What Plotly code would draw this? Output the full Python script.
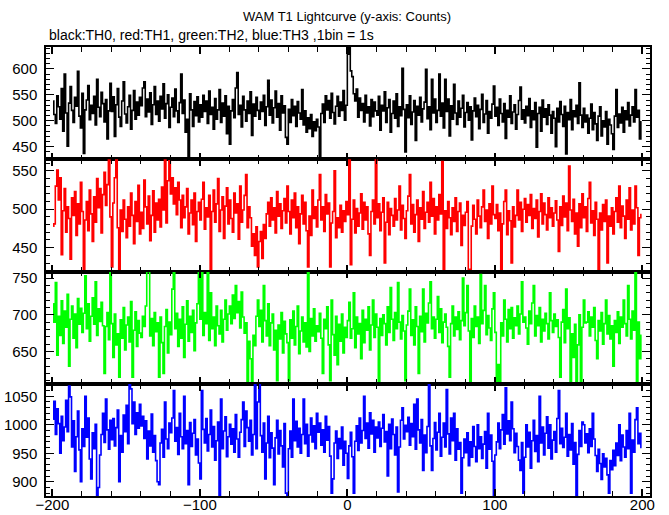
import plotly.graph_objects as go
from plotly.subplots import make_subplots

# ---- data: counts per 1-s bin (t = -200 .. 199 s) ----
th0_counts = [
    538, 512, 495, 548, 527, 503, 562, 480, 590, 515, 451, 534, 566, 520, 497, 545, 528, 595, 509, 486,
    553, 437, 521, 540, 568, 502, 530, 514, 547, 492, 580, 526, 508, 555, 533, 498, 541, 465, 519, 572,
    518, 546, 470, 531, 562, 507, 489, 538, 575, 513, 496, 527, 549, 484, 520, 558, 503, 536, 511, 545,
    529, 563, 575, 508, 542, 517, 554, 493, 531, 566, 512, 538, 499, 547, 523, 571, 505, 533, 550, 487,
    526, 544, 508, 561, 519, 497, 535, 590, 514, 540, 478, 503, 426, 552, 521, 489, 537, 510, 546, 498,
    531, 507, 549, 518, 538, 495, 557, 512, 526, 484, 543, 503, 521, 560, 497, 534, 509, 548, 475, 528,
    455, 519, 541, 506, 563, 593, 512, 530, 488, 547, 521, 499, 538, 514, 556, 472, 532, 509, 545, 520,
    503, 536, 518, 549, 491, 527, 578, 511, 540, 496, 525, 557, 507, 533, 482, 548, 515, 529, 468, 455,
    522, 497, 541, 510, 528, 489, 537, 515, 503, 560, 492, 519, 478, 506, 485, 512, 470, 498, 481, 503,
    488, 426, 514, 532, 497, 548, 521, 539, 505, 553, 516, 494, 528, 547, 509, 536, 520, 558, 501, 530,
    628, 642, 596, 585, 552, 538, 561, 507, 544, 520, 533, 498, 549, 515, 527, 490, 541, 508, 536, 519,
    511, 547, 482, 530, 519, 556, 497, 525, 541, 478, 514, 538, 505, 552, 489, 527, 510, 601, 522, 440,
    531, 506, 548, 493, 517, 539, 462, 528, 511, 545, 498, 523, 536, 599, 504, 527, 483, 580, 515, 542,
    497, 520, 590, 509, 534, 486, 580, 518, 542, 471, 529, 503, 570, 515, 493, 538, 507, 524, 549, 488,
    516, 535, 501, 527, 463, 519, 544, 508, 530, 485, 522, 551, 497, 513, 539, 476, 518, 505, 532, 567,
    509, 526, 491, 542, 514, 498, 533, 466, 520, 507, 548, 495, 517, 531, 484, 512, 539, 565, 503, 521,
    496, 528, 510, 543, 487, 519, 502, 535, 449, 514, 526, 480, 540, 507, 523, 493, 531, 511, 476, 518,
    505, 450, 524, 498, 537, 512, 489, 528, 436, 516, 502, 541, 483, 519, 508, 530, 495, 573, 511, 487,
    524, 498, 511, 476, 505, 532, 483, 516, 494, 462, 509, 527, 471, 500, 488, 518, 455, 503, 492, 475,
    445, 509, 560, 487, 513, 496, 526, 478, 519, 502, 535, 490, 511, 527, 498, 560, 507, 520, 465, 498,
]
th1_counts = [
    478, 481, 530, 551, 512, 541, 441, 498, 527, 470, 503, 488, 435, 515, 492, 523, 466, 507, 481, 535,
    497, 419, 486, 510, 472, 525, 494, 458, 516, 483, 540, 502, 527, 469, 519, 548, 505, 532, 565, 490,
    425, 508, 541, 565, 476, 420, 499, 471, 512, 487, 463, 503, 478, 521, 492, 455, 510, 484, 531, 468,
    496, 475, 538, 503, 481, 517, 459, 492, 524, 470, 508, 486, 513, 477, 529, 499, 565, 482, 537, 563,
    520, 541, 507, 528, 493, 535, 512, 476, 518, 489, 503, 527, 468, 495, 512, 480, 521, 458, 497, 509,
    486, 513, 535, 474, 502, 490, 518, 420, 497, 525, 483, 507, 540, 471, 499, 516, 462, 504, 528, 481,
    512, 488, 470, 521, 495, 507, 461, 530, 483, 499, 518, 545, 476, 503, 489, 452, 468, 440, 477, 425,
    458, 471, 436, 480, 462, 494, 509, 478, 515, 486, 502, 469, 523, 491, 507, 475, 498, 514, 482, 530,
    497, 468, 512, 489, 521, 476, 503, 455, 494, 518, 481, 509, 472, 425, 491, 466, 525, 488, 503, 477,
    512, 545, 486, 503, 471, 519, 494, 508, 425, 482, 497, 550, 463, 489, 476, 505, 470, 498, 484, 510,
    493, 565, 428, 487, 512, 469, 501, 478, 495, 520, 474, 509, 486, 503, 468, 440, 497, 512, 481, 565,
    489, 507, 472, 496, 515, 430, 483, 509, 467, 501, 492, 478, 514, 486, 499, 530, 473, 505, 488, 462,
    498, 517, 545, 481, 506, 470, 493, 512, 458, 502, 487, 523, 475, 496, 509, 483, 535, 491, 514, 468,
    503, 486, 519, 494, 562, 420, 498, 475, 510, 489, 467, 502, 484, 515, 471, 497, 508, 453, 492, 479,
    496, 510, 419, 422, 478, 505, 487, 468, 512, 491, 476, 503, 525, 484, 499, 462, 507, 481, 530, 493,
    488, 506, 472, 495, 419, 481, 510, 525, 467, 498, 485, 430, 503, 477, 492, 525, 486, 509, 471, 500,
    514, 483, 506, 492, 519, 475, 501, 488, 512, 464, 497, 520, 481, 508, 493, 473, 515, 489, 502, 478,
    495, 511, 486, 445, 503, 479, 517, 490, 508, 472, 556, 499, 484, 513, 468, 495, 452, 507, 476, 520,
    489, 503, 471, 514, 535, 482, 498, 466, 509, 487, 420, 495, 473, 506, 484, 512, 430, 491, 478, 502,
    468, 497, 515, 483, 530, 476, 504, 491, 462, 512, 487, 528, 473, 499, 481, 530, 502, 440, 489, 493,
]
th2_counts = [
    715, 690, 744, 645, 698, 672, 719, 661, 705, 683, 728, 630, 694, 712, 668, 701, 655, 722, 687, 709,
    676, 702, 753, 681, 715, 664, 698, 723, 687, 745, 672, 708, 691, 717, 685, 620, 684, 703, 666, 759,
    688, 642, 701, 659, 674, 615, 693, 668, 710, 652, 686, 697, 663, 718, 615, 679, 704, 657, 692, 675,
    669, 698, 684, 712, 759, 759, 671, 695, 658, 703, 677, 689, 615, 697, 662, 620, 684, 707, 648, 690,
    673, 735, 759, 681, 702, 657, 694, 668, 711, 642, 687, 719, 664, 698, 676, 706, 651, 689, 715, 759,
    694, 759, 672, 703, 688, 759, 665, 730, 681, 697, 658, 712, 685, 674, 706, 663, 694, 720, 679, 701,
    712, 688, 727, 695, 740, 703, 718, 682, 731, 697, 675, 689, 606, 664, 640, 606, 672, 658, 698, 720,
    684, 706, 663, 740, 692, 671, 715, 658, 689, 701, 652, 679, 610, 686, 667, 703, 648, 691, 674, 662,
    610, 693, 668, 705, 659, 684, 712, 647, 678, 697, 663, 689, 656, 759, 650, 695, 671, 708, 664, 685,
    677, 702, 668, 620, 694, 681, 711, 659, 610, 720, 673, 645, 698, 632, 687, 664, 701, 648, 683, 669,
    692, 717, 668, 681, 730, 655, 697, 674, 688, 640, 706, 662, 694, 679, 711, 652, 686, 720, 669, 701,
    683, 606, 695, 672, 700, 688, 659, 711, 676, 737, 694, 665, 703, 681, 744, 690, 667, 699, 678, 610,
    686, 705, 735, 672, 693, 659, 711, 684, 620, 698, 677, 735, 663, 702, 689, 716, 745, 681, 697, 668,
    694, 725, 676, 708, 662, 690, 701, 683, 657, 615, 688, 712, 671, 697, 680, 704, 666, 692, 750, 685,
    703, 740, 678, 606, 695, 669, 712, 684, 697, 661, 755, 688, 706, 740, 673, 699, 682, 665, 708, 730,
    676, 606, 632, 606, 689, 671, 720, 694, 663, 707, 681, 710, 668, 696, 685, 712, 674, 701, 745, 690,
    697, 682, 660, 705, 688, 716, 740, 671, 699, 685, 710, 663, 694, 678, 702, 688, 667, 730, 692, 676,
    701, 684, 693, 669, 615, 690, 707, 662, 735, 681, 696, 606, 674, 642, 687, 606, 659, 700, 606, 683,
    720, 689, 690, 704, 671, 697, 683, 710, 665, 640, 692, 678, 703, 660, 688, 720, 674, 699, 667, 685,
    630, 692, 676, 704, 661, 697, 683, 720, 688, 671, 740, 694, 667, 705, 679, 759, 606, 690, 640, 672,
]
th3_counts = [
    1010, 1041, 983, 1028, 1002, 950, 1015, 972, 996, 1043, 988, 1068, 1049, 961, 1007, 918, 979, 1024, 956, 900,
    993, 962, 1050, 978, 1012, 940, 905, 986, 958, 1001, 875, 890, 947, 983, 1020, 969, 1045, 991, 957, 1008,
    974, 1011, 963, 995, 1026, 900, 981, 952, 1017, 988, 1034, 967, 1072, 1063, 1002, 1040, 983, 1021, 994, 1036,
    998, 1015, 976, 1007, 940, 989, 963, 1019, 952, 981, 937, 900, 895, 968, 992, 943, 1040, 975, 958, 1003,
    986, 1012, 1060, 971, 995, 948, 1020, 979, 958, 1050, 967, 990, 895, 1004, 962, 985, 1009, 947, 975, 933,
    905, 1060, 992, 968, 1011, 954, 983, 1026, 961, 997, 938, 972, 1005, 875, 1045, 958, 989, 1014, 944, 979,
    1001, 966, 993, 952, 1018, 975, 943, 987, 1009, 1040, 962, 1024, 995, 971, 1008, 947, 983, 1070, 958, 1040,
    1072, 981, 952, 1003, 905, 968, 1015, 942, 986, 959, 895, 977, 1008, 949, 990, 963, 926, 1002, 880, 875,
    958, 989, 943, 1045, 972, 1006, 961, 994, 950, 983, 1045, 967, 1001, 945, 982, 1012, 970, 998, 958, 1020,
    987, 1003, 964, 991, 952, 1015, 973, 997, 945, 880, 905, 968, 989, 941, 976, 958, 996, 929, 971, 950,
    906, 963, 987, 944, 880, 971, 998, 955, 1012, 968, 990, 1050, 976, 1003, 959, 1021, 984, 1008, 952, 996,
    977, 1005, 962, 994, 1018, 970, 988, 910, 1001, 958, 1010, 983, 947, 996, 882, 961, 1008, 1030, 975, 999,
    988, 1013, 964, 1002, 979, 1036, 957, 1045, 991, 968, 1009, 920, 982, 951, 997, 1072, 963, 920, 976, 1004,
    956, 987, 1020, 945, 978, 1003, 961, 1062, 984, 949, 1012, 972, 1020, 938, 993, 957, 969, 880, 942, 975,
    951, 986, 928, 970, 943, 997, 962, 935, 1000, 958, 979, 941, 966, 988, 924, 1020, 957, 982, 936, 875,
    947, 970, 1003, 958, 991, 1018, 966, 1065, 984, 1007, 972, 1040, 993, 951, 985, 962, 938, 920, 969, 880,
    943, 1000, 961, 987, 924, 972, 1008, 953, 981, 935, 1050, 968, 996, 947, 985, 1014, 959, 1000, 940, 973,
    988, 952, 1011, 1060, 967, 994, 960, 978, 1020, 945, 983, 956, 1002, 931, 969, 875, 948, 990, 962, 1005,
    1000, 968, 984, 951, 993, 962, 1020, 975, 946, 918, 957, 932, 904, 949, 926, 941, 912, 880, 937, 921,
    955, 928, 968, 946, 1000, 937, 982, 961, 943, 990, 958, 1020, 880, 973, 952, 1009, 1030, 967, 985, 960,
]

t_start = -199.5   # centre of first 1-s bin
bin_s = 1.0
series_names = ["TH0", "TH1", "TH2", "TH3"]
series_colors = ["#000000", "#ff0000", "#00ff00", "#0000ff"]
y_ranges = [[426, 642], [419, 565], [606, 759], [875, 1072]]
x_range = [-204.3, 205.2]

all_counts = [th0_counts, th1_counts, th2_counts, th3_counts]

fig = make_subplots(rows=4, cols=1, shared_xaxes=True, vertical_spacing=0)

for k, counts in enumerate(all_counts):
    t = [t_start + i * bin_s for i in range(len(counts))]
    fig.add_trace(
        go.Scatter(x=t, y=counts, mode="lines", name=series_names[k],
                   line=dict(color=series_colors[k], width=1.6, shape="hvh"),
                   showlegend=False),
        row=k + 1, col=1,
    )

font = dict(family="Liberation Sans, Arial, sans-serif", size=15, color="black")

for k in range(4):
    fig.update_yaxes(
        row=k + 1, col=1,
        range=y_ranges[k], tick0=0, dtick=50,
        ticks="inside", ticklen=8, tickwidth=1, tickcolor="black",
        minor=dict(dtick=10, ticks="inside", ticklen=4, tickcolor="black", tickwidth=1),
        showline=True, linecolor="black", linewidth=1.5, mirror="allticks",
        showgrid=False, zeroline=False, tickfont=font, ticklabelstandoff=4,
        automargin=False,
    )
    fig.update_xaxes(
        row=k + 1, col=1,
        range=x_range, tick0=0, dtick=100,
        ticks="inside", ticklen=7, tickwidth=2, tickcolor="black",
        minor=dict(dtick=20, ticks="inside", ticklen=5, tickcolor="black", tickwidth=1),
        showline=True, linecolor="black", linewidth=1.5, mirror="allticks",
        showgrid=False, zeroline=False, tickfont=font,
        showticklabels=(k == 3), automargin=False,
        ticklabelstandoff=-6,
    )

fig.update_layout(
    width=669, height=515,
    margin=dict(l=46, r=19, t=47, b=19, autoexpand=False),
    paper_bgcolor="white", plot_bgcolor="white",
    font=font,
    annotations=[
        dict(text="WAM T1 Lightcurve (y-axis: Counts)", xref="paper", yref="paper",
             x=0.498, y=1.067, xanchor="center", yanchor="middle", showarrow=False,
             font=dict(family="Liberation Sans, Arial, sans-serif", size=13, color="black")),
        dict(text="black:TH0, red:TH1, green:TH2, blue:TH3 ,1bin = 1s", xref="paper", yref="paper",
             x=0.002, y=1.027, xanchor="left", yanchor="middle", showarrow=False,
             font=dict(family="Liberation Sans, Arial, sans-serif", size=14, color="black")),
    ],
)

fig.write_html(
    "out.html",
    config={"displayModeBar": False},
    post_script="document.body.style.margin='0';document.body.style.padding='0';",
)
